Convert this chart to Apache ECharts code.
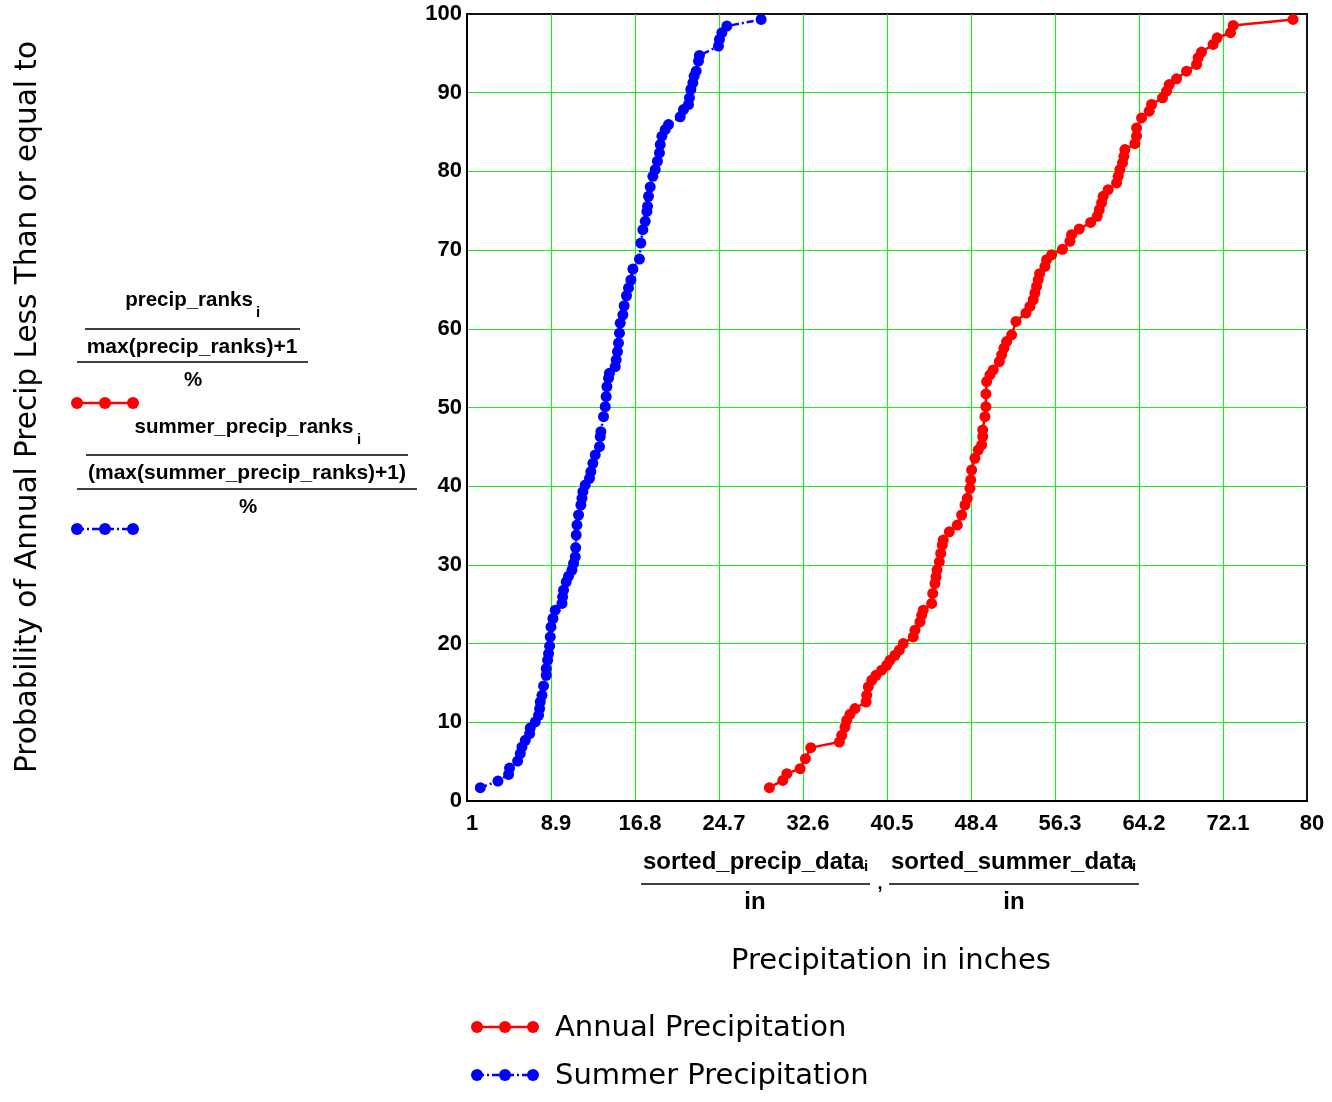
<!DOCTYPE html>
<html>
<head>
<meta charset="utf-8">
<script src="https://cdn.jsdelivr.net/npm/echarts@6/dist/echarts.min.js"></script>
<style>
html,body{margin:0;padding:0;background:#fff;}
#chart{width:1332px;height:1102px;}
</style>
</head>
<body>
<div id="chart"></div>
<script>
// ---- data ----
const summerY = [1.69,2.53,3.38,4.19,5.08,6.02,6.86,7.71,8.56,9.28,10.04,10.89,11.74,12.58,13.43,14.62,15.98,16.83,17.89,18.74,19.67,20.85,22.12,23.19,24.25,25.1,25.94,26.79,27.85,28.57,29.34,30.19,31.03,32.2,33.79,35.06,36.34,37.61,38.46,39.3,40.15,41.0,41.85,42.91,43.97,45.02,46.3,46.93,48.84,50.11,51.39,52.66,53.72,54.36,55.2,56.06,57.11,58.18,59.45,60.72,61.78,62.93,64.2,65.2,66.2,67.59,68.86,70.9,72.6,73.65,74.92,75.56,76.83,78.03,79.38,80.23,81.29,82.35,83.41,84.47,85.32,85.95,86.93,87.86,88.5,89.35,90.41,91.26,92.1,92.74,94.01,94.73,95.92,96.77,97.62,98.46,99.31];
const summerX = [2.25,3.91,4.91,5.0,5.76,6.01,6.17,6.48,6.89,6.95,7.42,7.73,7.83,7.89,8.05,8.2,8.45,8.45,8.58,8.67,8.77,8.83,8.9,9.08,9.3,9.93,9.99,10.08,10.33,10.55,10.87,11.02,11.18,11.22,11.27,11.34,11.49,11.71,11.81,11.9,12.12,12.52,12.65,12.84,13.06,13.46,13.53,13.59,13.84,14.0,14.09,14.16,14.31,14.4,14.94,15.03,15.15,15.25,15.34,15.41,15.66,15.78,16.0,16.19,16.41,16.6,17.22,17.35,17.54,17.76,17.92,17.98,18.07,18.23,18.48,18.7,18.91,19.1,19.17,19.33,19.64,19.95,21.05,21.36,21.83,21.92,22.05,22.24,22.36,22.55,22.77,22.86,24.65,24.74,24.97,25.44,28.66];

const annualY = [1.69,2.62,3.47,4.11,5.38,6.78,7.49,8.35,9.4,10.25,11.02,11.74,12.58,13.43,14.49,15.34,15.98,16.62,17.25,17.89,18.52,19.16,20.01,20.85,21.7,22.76,23.61,24.25,25.1,26.37,27.65,28.49,29.34,30.39,31.46,32.52,33.16,34.21,35.06,36.34,37.61,38.46,39.73,40.79,42.06,43.55,44.6,45.24,46.3,47.15,48.84,50.11,51.73,53.3,54.15,54.78,55.84,56.69,57.54,58.38,59.24,60.93,62.0,62.84,63.69,64.54,65.38,66.23,67.0,67.93,68.78,69.41,70.1,71.11,71.96,72.68,73.52,74.29,75.14,75.99,76.83,77.68,78.53,79.38,80.23,81.08,81.92,82.77,83.53,84.47,85.53,86.8,87.65,88.5,89.35,90.19,91.04,91.77,92.74,93.59,94.44,95.16,96.13,96.98,97.62,98.55,99.31];
const annualX = [29.44,30.7,31.08,32.33,32.83,33.33,36.02,36.24,36.55,36.71,37.02,37.49,38.53,38.59,38.74,39.06,39.47,40.0,40.47,40.78,41.25,41.66,42.03,42.97,43.13,43.6,43.76,43.91,44.7,44.8,45.01,45.11,45.2,45.42,45.55,45.7,45.79,46.36,47.11,47.52,47.83,48.05,48.3,48.37,48.46,48.77,49.08,49.4,49.5,49.5,49.71,49.8,49.8,49.87,50.18,50.49,51.06,51.28,51.5,51.75,52.22,52.63,53.57,53.94,54.25,54.41,54.57,54.72,54.85,55.35,55.51,55.98,57.0,57.7,57.86,58.58,59.65,60.27,60.46,60.68,60.83,61.3,62.09,62.24,62.4,62.65,62.78,62.87,63.81,63.97,63.97,64.44,65.16,65.38,66.41,66.79,67.04,67.73,68.67,69.61,69.76,70.08,71.17,71.55,72.81,73.06,78.69];

const xMin = 1, xMax = 80, xStep = 7.9;
const yMin = 0, yMax = 100, yStep = 10;
const seriesNames = ['Annual Precipitation', 'Summer Precipitation'];

// ---- chart ----
const chart = echarts.init(document.getElementById('chart'), null, {renderer: 'canvas'});
const RED = '#ff0000', BLUE = '#0000ff', GRIDC = '#22e822';
const BLUE_DASH = [7, 3, 2, 3];
const HAND = '"DejaVu Sans", sans-serif';
const SANS = '"Liberation Sans", Arial, sans-serif';
const BOLD = 'bold 20.5px ' + SANS;
const BOLD2 = 'bold 21px ' + SANS;
const XBOLD = 'bold 24px ' + SANS;

function zip(xs, ys) { return xs.map((x, i) => [x, ys[i]]); }

function txt(text, x, y, font, align) {
  return {type: 'text', x: x, y: y, silent: true,
    style: {text: text, font: font, fill: '#000', align: align || 'center', verticalAlign: 'middle',
      textAlign: align || 'center', textVerticalAlign: 'middle'}};
}
function hline(x1, x2, y, w) {
  return {type: 'line', silent: true, shape: {x1: x1, y1: y, x2: x2, y2: y}, style: {stroke: '#000', lineWidth: w || 1.5}};
}
function marker(x0, y, color, dash) {
  const els = [{type: 'line', silent: true, shape: {x1: x0, y1: y, x2: x0 + 56, y2: y},
    style: {stroke: color, lineWidth: 2.5, lineDash: dash || null}}];
  [0, 28, 56].forEach(d => els.push({type: 'circle', silent: true, shape: {cx: x0 + d, cy: y, r: 6}, style: {fill: color}}));
  return els;
}

const graphics = [
  // y axis title
  {type: 'text', x: 28, y: 407, rotation: Math.PI / 2, silent: true,
    style: {text: 'Probability of Annual Precip Less Than or equal to', font: '29.5px ' + HAND, fill: '#000',
      align: 'center', verticalAlign: 'middle', textAlign: 'center', textVerticalAlign: 'middle'}},
  // left expression labels
  txt('precip_ranks', 189, 300, BOLD),
  txt('i', 258, 313, 'bold 15px ' + SANS),
  hline(85, 300, 329),
  txt('max(precip_ranks)+1', 192, 347, BOLD2),
  hline(77, 308, 362),
  txt('%', 193, 380, BOLD),
  ...marker(77, 403, RED),
  txt('summer_precip_ranks', 244, 427, BOLD),
  txt('i', 359, 440, 'bold 15px ' + SANS),
  hline(86, 408, 455),
  txt('(max(summer_precip_ranks)+1)', 247, 473, BOLD2),
  hline(77, 417, 489),
  txt('%', 248, 507, BOLD),
  ...marker(77, 529, BLUE, BLUE_DASH),
  // x axis expression label
  txt('sorted_precip_data', 643, 862, XBOLD, 'left'),
  txt('i', 864, 867, 'bold 15px ' + SANS, 'left'),
  hline(641, 870, 884),
  txt('in', 755, 902, XBOLD),
  txt(',', 880, 884, 'bold 18px ' + SANS),
  txt('sorted_summer_data', 891, 862, XBOLD, 'left'),
  txt('i', 1132, 867, 'bold 15px ' + SANS, 'left'),
  hline(889, 1139, 884),
  txt('in', 1014, 902, XBOLD),
  // x axis title
  {type: 'text', x: 891, y: 961, silent: true,
    style: {text: 'Precipitation in inches', font: '29px ' + HAND, fill: '#000',
      align: 'center', verticalAlign: 'middle', textAlign: 'center', textVerticalAlign: 'middle'}},
  // bottom legend
  ...marker(477, 1027, RED),
  txt(seriesNames[0], 555, 1028, '29px ' + HAND, 'left'),
  ...marker(477, 1075, BLUE, BLUE_DASH),
  txt(seriesNames[1], 555, 1076, '29px ' + HAND, 'left')
];

const option = {
  animation: false,
  backgroundColor: '#ffffff',
  grid: {left: 467, right: 25, top: 14, bottom: 301, show: true, borderColor: '#111', borderWidth: 2, backgroundColor: 'transparent'},
  xAxis: {
    type: 'value', min: xMin, max: xMax, interval: xStep,
    axisLine: {show: true, onZero: false, lineStyle: {color: '#000', width: 2}},
    axisTick: {show: false},
    splitLine: {show: true, showMinLine: false, showMaxLine: false, lineStyle: {color: [GRIDC], width: 1.2, opacity: 1}},
    axisLabel: {color: '#000', fontFamily: SANS, fontWeight: 'bold', fontSize: 22,
      margin: 12, padding: [0, 0, 0, 10], showMinLabel: true, showMaxLabel: true,
      formatter: v => String(Math.round(v * 10) / 10)}
  },
  yAxis: {
    type: 'value', min: yMin, max: yMax, interval: yStep,
    axisLine: {show: true, onZero: false, lineStyle: {color: '#000', width: 2}},
    axisTick: {show: false},
    splitLine: {show: true, showMinLine: false, showMaxLine: false, lineStyle: {color: [GRIDC], width: 1.2, opacity: 1}},
    axisLabel: {color: '#000', fontFamily: SANS, fontWeight: 'bold', fontSize: 22, margin: 5}
  },
  series: [
    {name: seriesNames[0], type: 'line', data: zip(annualX, annualY), symbol: 'circle', symbolSize: 11,
      itemStyle: {color: RED}, lineStyle: {color: RED, width: 2.5}, z: 3},
    {name: seriesNames[1], type: 'line', data: zip(summerX, summerY), symbol: 'circle', symbolSize: 11,
      itemStyle: {color: BLUE}, lineStyle: {color: BLUE, width: 2.5, type: BLUE_DASH}, z: 3}
  ],
  graphic: graphics
};
chart.setOption(option);
</script>
</body>
</html>
